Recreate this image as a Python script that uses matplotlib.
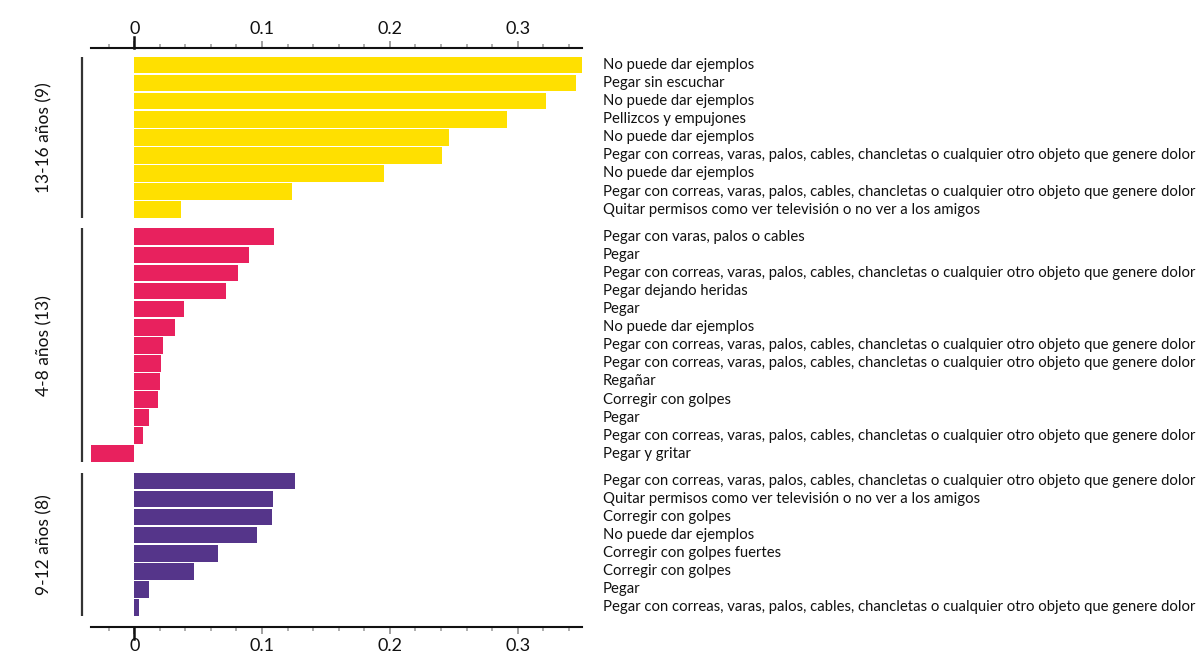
import matplotlib
matplotlib.use("Agg")
import matplotlib.pyplot as plt
from matplotlib.ticker import MultipleLocator

plt.rcParams["font.family"] = ["Lato", "DejaVu Sans"]

# data, top to bottom
GROUPS = ["13-16 años (9)", "4-8 años (13)", "9-12 años (8)"]
GROUP_COLORS = ["#FFE000", "#E8215E", "#55358A"]

VALUES_13_16 = [0.352, 0.346, 0.322, 0.292, 0.2465, 0.241, 0.1956, 0.1236, 0.0368]
LABELS_13_16 = [
    "No puede dar ejemplos",
    "Pegar sin escuchar",
    "No puede dar ejemplos",
    "Pellizcos y empujones",
    "No puede dar ejemplos",
    "Pegar con correas, varas, palos, cables, chancletas o cualquier otro objeto que genere dolor",
    "No puede dar ejemplos",
    "Pegar con correas, varas, palos, cables, chancletas o cualquier otro objeto que genere dolor",
    "Quitar permisos como ver televisión o no ver a los amigos",
]

VALUES_4_8 = [0.1095, 0.090, 0.0814, 0.072, 0.0391, 0.0321, 0.0227, 0.0211,
              0.0203, 0.0188, 0.0117, 0.007, -0.034]
LABELS_4_8 = [
    "Pegar con varas, palos o cables",
    "Pegar",
    "Pegar con correas, varas, palos, cables, chancletas o cualquier otro objeto que genere dolor",
    "Pegar dejando heridas",
    "Pegar",
    "No puede dar ejemplos",
    "Pegar con correas, varas, palos, cables, chancletas o cualquier otro objeto que genere dolor",
    "Pegar con correas, varas, palos, cables, chancletas o cualquier otro objeto que genere dolor",
    "Regañar",
    "Corregir con golpes",
    "Pegar",
    "Pegar con correas, varas, palos, cables, chancletas o cualquier otro objeto que genere dolor",
    "Pegar y gritar",
]

VALUES_9_12 = [0.126, 0.1088, 0.108, 0.0962, 0.0657, 0.047, 0.0117, 0.0039]
LABELS_9_12 = [
    "Pegar con correas, varas, palos, cables, chancletas o cualquier otro objeto que genere dolor",
    "Quitar permisos como ver televisión o no ver a los amigos",
    "Corregir con golpes",
    "No puede dar ejemplos",
    "Corregir con golpes fuertes",
    "Corregir con golpes",
    "Pegar",
    "Pegar con correas, varas, palos, cables, chancletas o cualquier otro objeto que genere dolor",
]

GROUP_VALUES = [VALUES_13_16, VALUES_4_8, VALUES_9_12]
GROUP_LABELS = [LABELS_13_16, LABELS_4_8, LABELS_9_12]

GAP = 0.5
BAR_H = 0.92

fig = plt.figure(figsize=(11.96, 6.59), dpi=100)
ax = fig.add_axes([0.0758, 0.0486, 0.4108, 0.878])

ytrans = ax.get_yaxis_transform()
xtrans = ax.get_xaxis_transform()

start = 0.0
for name, color, vals, labs in zip(GROUPS, GROUP_COLORS, GROUP_VALUES, GROUP_LABELS):
    ys = [start + i for i in range(len(vals))]
    ax.barh(ys, vals, height=BAR_H, color=color, linewidth=0)
    for y, lab in zip(ys, labs):
        ax.text(1.0427, y, lab, transform=ytrans, ha="left", va="center",
                fontsize=10.7, color="#111111", clip_on=False)
    top, bottom = ys[0] - BAR_H / 2, ys[-1] + BAR_H / 2
    ax.plot([-0.0183, -0.0183], [top, bottom], transform=ytrans, color="#333333",
            linewidth=1.6, clip_on=False, solid_capstyle="butt")
    ax.text(-0.095, (top + bottom) / 2, name, transform=ytrans, rotation=90,
            ha="center", va="center", fontsize=12.5, color="#111111")
    start = ys[-1] + 1 + GAP

ax.set_xlim(-0.0341, 0.3503)
ax.set_ylim(31.08, -0.92)
ax.set_yticks([])

ax.xaxis.set_major_locator(MultipleLocator(0.1))
ax.xaxis.set_minor_locator(MultipleLocator(0.02))
ax.xaxis.set_major_formatter(lambda v, p: "0" if abs(v) < 1e-9 else f"{v:.1f}")
ax.tick_params(axis="x", which="both", top=True, bottom=True, labeltop=True,
               labelbottom=True, direction="out", colors="#999999",
               labelcolor="#111111", labelsize=13)
ax.tick_params(axis="x", which="major", length=5, width=1.3, pad=3)
ax.tick_params(axis="x", which="minor", length=3, width=1.1)

for side in ["left", "right"]:
    ax.spines[side].set_visible(False)
for side in ["top", "bottom"]:
    ax.spines[side].set_linewidth(1.5)
    ax.spines[side].set_color("#111111")

# black zero tick, longer than the others
ax.plot([0, 0], [1, 1.02], transform=xtrans, color="#111111", linewidth=1.8, clip_on=False)
ax.plot([0, 0], [0, -0.02], transform=xtrans, color="#111111", linewidth=1.8, clip_on=False)

fig.savefig("out.png", dpi=100)
